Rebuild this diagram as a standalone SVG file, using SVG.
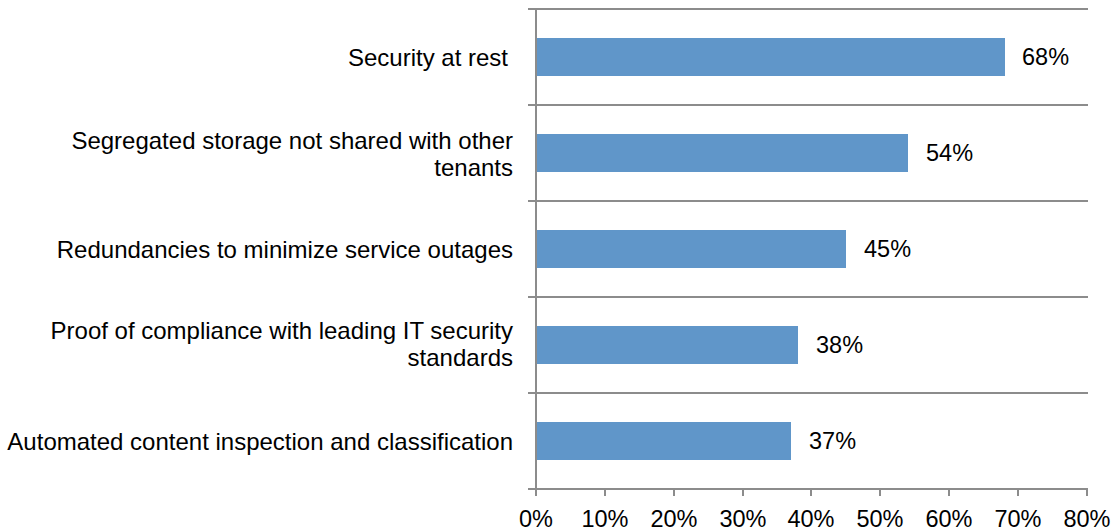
<svg xmlns="http://www.w3.org/2000/svg" width="1117" height="531" viewBox="0 0 1117 531">
<style>
.grid{stroke:#8c8c8c;stroke-width:2;fill:none}
.bar{fill:#6096c9}
.t{font-family:"Liberation Sans",Arial,sans-serif;font-size:23.5px;fill:#000}
.cat{text-anchor:end;font-size:24px}
.tick{text-anchor:middle}
</style>
<rect width="1117" height="531" fill="#fff"/>
<g id="grid" class="grid">
<line x1="528" y1="9" x2="1088" y2="9"/>
<line x1="528" y1="105" x2="1088" y2="105"/>
<line x1="528" y1="201" x2="1088" y2="201"/>
<line x1="528" y1="297" x2="1088" y2="297"/>
<line x1="528" y1="393" x2="1088" y2="393"/>
<line x1="528" y1="489" x2="1088" y2="489"/>
<line x1="536" y1="9" x2="536" y2="496"/>
<line x1="605" y1="489" x2="605" y2="496"/>
<line x1="674" y1="489" x2="674" y2="496"/>
<line x1="743" y1="489" x2="743" y2="496"/>
<line x1="811" y1="489" x2="811" y2="496"/>
<line x1="880" y1="489" x2="880" y2="496"/>
<line x1="949" y1="489" x2="949" y2="496"/>
<line x1="1018" y1="489" x2="1018" y2="496"/>
<line x1="1087" y1="489" x2="1087" y2="496"/>
</g>
<g id="bar1"><rect class="bar" x="537" y="38" width="468" height="38"/><text class="t" x="1022" y="65">68%</text></g>
<g id="bar2"><rect class="bar" x="537" y="134" width="371" height="38"/><text class="t" x="926" y="161">54%</text></g>
<g id="bar3"><rect class="bar" x="537" y="230" width="309" height="38"/><text class="t" x="864" y="257">45%</text></g>
<g id="bar4"><rect class="bar" x="537" y="326" width="261" height="38"/><text class="t" x="816" y="353">38%</text></g>
<g id="bar5"><rect class="bar" x="537" y="422" width="254" height="38"/><text class="t" x="809" y="449">37%</text></g>
<g id="labels">
<text class="t cat" x="508" y="66">Security at rest</text>
<text class="t cat" x="513" y="149">Segregated storage not shared with other</text>
<text class="t cat" x="513" y="176">tenants</text>
<text class="t cat" x="513" y="258">Redundancies to minimize service outages</text>
<text class="t cat" x="513" y="339">Proof of compliance with leading IT security</text>
<text class="t cat" x="513" y="366">standards</text>
<text class="t cat" x="513" y="450">Automated content inspection and classification</text>
</g>
<g id="axis-labels">
<text class="t tick" x="536" y="527">0%</text>
<text class="t tick" x="605" y="527">10%</text>
<text class="t tick" x="674" y="527">20%</text>
<text class="t tick" x="743" y="527">30%</text>
<text class="t tick" x="811" y="527">40%</text>
<text class="t tick" x="880" y="527">50%</text>
<text class="t tick" x="949" y="527">60%</text>
<text class="t tick" x="1018" y="527">70%</text>
<text class="t tick" x="1087" y="527">80%</text>
</g>
</svg>
